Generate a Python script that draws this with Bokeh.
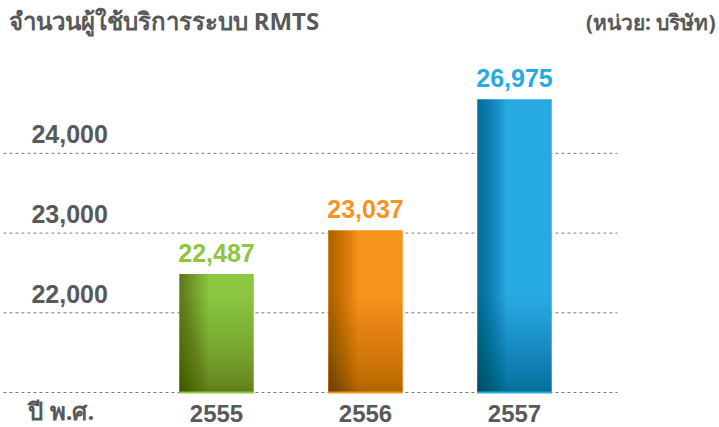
from bokeh.plotting import figure
from bokeh.models import ColumnDataSource, Range1d
from bokeh.core.properties import value
from bokeh.embed import file_html
from bokeh.resources import INLINE
import numpy as np

# ---- data ----
TITLE = "จำนวนผู้ใช้บริการระบบ RMTS"
UNIT = "(หน่วย: บริษัท)"
AXIS_NAME = "ปี พ.ศ."
years = ["2555", "2556", "2557"]
users = [22487, 23037, 26975]
value_labels = ["22,487", "23,037", "26,975"]
y_ticks = [22000, 23000, 24000]
y_tick_labels = ["22,000", "23,000", "24,000"]
baseline_value = 21000
axis_break = 24680  # bars above this value are cut (broken axis)
bar_colors = ["#8dc63f", "#f7941d", "#27aae1"]

# ---- layout constants ----
X_START, X_END = -1.4497, 3.3758
Y_START, Y_END = 20561, 25918
GRID_START, GRID_END = -1.43, 2.69
LABEL_X = -1.242
AXIS_NAME_X = -1.262
TITLE_X = -1.396
UNIT_X = 3.349
BAR_W = 0.5
SHADE_H = 1200  # height (value units) of the bottom shading
TXT = "#58595b"
NUM_FONT = value("Liberation Sans")
THAI_FONT = value("Noto Sans")

p = figure(width=719, height=427, output_backend="svg", toolbar_location=None,
           x_range=Range1d(X_START, X_END), y_range=Range1d(Y_START, Y_END),
           min_border=0, outline_line_color=None)
p.axis.visible = False
p.grid.visible = False
p.background_fill_color = "white"
p.border_fill_color = "white"

# gridlines (dashed) incl. baseline
grid_vals = y_ticks + [baseline_value]
p.segment(x0=[GRID_START] * len(grid_vals), x1=[GRID_END] * len(grid_vals),
          y0=grid_vals, y1=grid_vals, line_color="#7a7a7a", line_width=1,
          line_dash="3 3")

# bars
idx = np.arange(len(users))
tops = np.minimum(np.array(users, dtype=float), axis_break)
src = ColumnDataSource(dict(x=idx, top=tops, color=bar_colors,
                            lab=value_labels, year=years,
                            x0=idx - BAR_W / 2, x1=idx + BAR_W / 2))
p.vbar(x="x", top="top", bottom=baseline_value, width=BAR_W, fill_color="color",
       line_color=None, source=src)

# shading (left edge and bottom darkening), built from nested translucent quads
n = 40
L, R, T, B, A = [], [], [], [], []
a_left = 1 - 0.68 ** (1 / n)
a_bot = 1 - 0.70 ** (1 / n)
for xi, t in zip(idx, tops):
    left = xi - BAR_W / 2
    h = min(t - baseline_value, SHADE_H)
    for k in range(n):
        f = (k + 1) / n
        L.append(left); R.append(left + BAR_W * 0.40 * f)
        B.append(baseline_value); T.append(t); A.append(a_left)
    for k in range(n):
        f = ((k + 1) / n) ** 1.6
        L.append(left); R.append(left + BAR_W)
        B.append(baseline_value); T.append(baseline_value + h * f)
        A.append(a_bot)
p.quad(left=L, right=R, top=T, bottom=B, fill_color="black", fill_alpha=A,
       line_color=None)

# thin bright base line under each bar
p.segment(x0="x0", x1="x1", y0=baseline_value, y1=baseline_value,
          line_color="color", line_width=2, source=src)

# value labels
p.text(x="x", y="top", text="lab", source=src, text_color="color",
       text_font=NUM_FONT, text_font_style="bold", text_font_size="25px",
       text_align="center", text_baseline="alphabetic", y_offset=-21)

# year labels
p.text(x="x", y=baseline_value, text="year", source=src, text_color=TXT,
       text_font=NUM_FONT, text_font_style="bold", text_font_size="24px",
       text_align="center", text_baseline="alphabetic", y_offset=21)

# y tick labels
p.text(x=[LABEL_X] * len(y_ticks), y=y_ticks, text=y_tick_labels, text_color=TXT,
       text_font=NUM_FONT, text_font_style="bold", text_font_size="25px",
       text_align="left", text_baseline="alphabetic", y_offset=-19)

# axis name
p.text(x=[AXIS_NAME_X], y=[baseline_value], text=[AXIS_NAME], text_color=TXT,
       text_font=THAI_FONT, text_font_style="bold", text_font_size="24px",
       text_align="left", text_baseline="alphabetic", y_offset=18)

# title and unit
p.text(x=[TITLE_X], y=[Y_END], text=[TITLE], text_color=TXT,
       text_font=THAI_FONT, text_font_style="bold", text_font_size="24px",
       text_align="left", text_baseline="alphabetic", y_offset=20)
p.text(x=[UNIT_X], y=[Y_END], text=[UNIT], text_color=TXT,
       text_font=THAI_FONT, text_font_style="bold", text_font_size="21px",
       text_align="right", text_baseline="alphabetic", y_offset=21)

open("out.html", "w").write(file_html(p, INLINE))
